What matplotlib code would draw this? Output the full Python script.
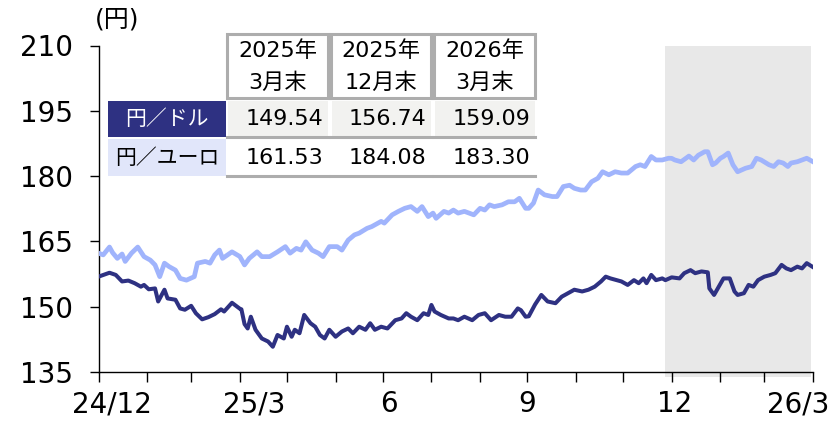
import numpy as np
import pandas as pd
import matplotlib
matplotlib.use('Agg')
import matplotlib.pyplot as plt
import matplotlib.transforms as mtrans
from matplotlib.patches import Rectangle
from matplotlib.lines import Line2D

plt.rcParams['font.family'] = ['DejaVu Sans', 'Noto Sans CJK JP']

# 円／ドル (TTM)
usd_dates = [
    '2024-12-31', '2025-01-07', '2025-01-11', '2025-01-15', '2025-01-19', '2025-01-23',
    '2025-01-27', '2025-01-29', '2025-02-01', '2025-02-05', '2025-02-07', '2025-02-11',
    '2025-02-13', '2025-02-18', '2025-02-21', '2025-02-24', '2025-02-28', '2025-03-03',
    '2025-03-07', '2025-03-11', '2025-03-15', '2025-03-19', '2025-03-21', '2025-03-26',
    '2025-03-31', '2025-04-01', '2025-04-03', '2025-04-05', '2025-04-07', '2025-04-10',
    '2025-04-14', '2025-04-18', '2025-04-21', '2025-04-24', '2025-04-28', '2025-04-30',
    '2025-05-03', '2025-05-05', '2025-05-08', '2025-05-11', '2025-05-15', '2025-05-18',
    '2025-05-21', '2025-05-24', '2025-05-27', '2025-05-31', '2025-06-04', '2025-06-08',
    '2025-06-11', '2025-06-15', '2025-06-19', '2025-06-22', '2025-06-25', '2025-06-29',
    '2025-07-03', '2025-07-08', '2025-07-12', '2025-07-15', '2025-07-18', '2025-07-22',
    '2025-07-26', '2025-07-29', '2025-07-31', '2025-08-02', '2025-08-06', '2025-08-11',
    '2025-08-14', '2025-08-17', '2025-08-21', '2025-08-26', '2025-08-30', '2025-09-03',
    '2025-09-07', '2025-09-12', '2025-09-16', '2025-09-20', '2025-09-24', '2025-09-26',
    '2025-09-29', '2025-10-01', '2025-10-05', '2025-10-09', '2025-10-13', '2025-10-18',
    '2025-10-22', '2025-10-26', '2025-10-30', '2025-11-04', '2025-11-08', '2025-11-12',
    '2025-11-16', '2025-11-19', '2025-11-22', '2025-11-26', '2025-11-29', '2025-12-03',
    '2025-12-07', '2025-12-10', '2025-12-13', '2025-12-15', '2025-12-18', '2025-12-21',
    '2025-12-25', '2025-12-27', '2025-12-31', '2026-01-05', '2026-01-08', '2026-01-12',
    '2026-01-15', '2026-01-19', '2026-01-23', '2026-01-24', '2026-01-27', '2026-01-30',
    '2026-02-02', '2026-02-06', '2026-02-09', '2026-02-11', '2026-02-15', '2026-02-18',
    '2026-02-21', '2026-02-24', '2026-02-28', '2026-03-04', '2026-03-07', '2026-03-11',
    '2026-03-14', '2026-03-17', '2026-03-21', '2026-03-24', '2026-03-27', '2026-03-31',
]
usd_values = [
    156.9, 157.8, 157.3, 155.8, 156.0, 155.4,
    154.6, 155.0, 154.0, 154.2, 151.2, 153.9,
    151.9, 151.6, 149.6, 149.3, 150.2, 148.5,
    147.1, 147.6, 148.3, 149.4, 148.9, 150.9,
    149.54, 149.4, 146.0, 145.0, 147.7, 144.7,
    142.7, 142.0, 140.8, 143.5, 142.7, 145.4,
    143.1, 144.7, 143.9, 148.1, 146.2, 145.4,
    143.5, 142.7, 144.7, 143.1, 144.3, 145.0,
    143.9, 145.4, 144.7, 146.2, 144.7, 145.4,
    145.0, 146.9, 147.3, 148.5, 147.7, 146.9,
    148.5, 148.1, 150.4, 148.9, 148.1, 147.3,
    147.3, 146.9, 147.7, 146.9, 148.1, 148.5,
    146.9, 148.1, 147.7, 147.7, 149.6, 149.2,
    147.7, 147.8, 150.5, 152.7, 151.2, 150.8,
    152.3, 153.1, 153.9, 153.5, 153.9, 154.6,
    155.8, 156.9, 156.5, 156.1, 155.8, 155.0,
    156.1, 155.4, 156.5, 155.4, 157.3, 156.1,
    156.5, 156.1, 156.74, 156.5, 157.7, 158.4,
    157.7, 158.1, 157.9, 154.2, 152.7, 154.6,
    156.5, 156.5, 153.5, 152.7, 153.1, 155.0,
    154.6, 156.1, 156.9, 157.3, 157.7, 159.6,
    158.8, 158.4, 159.2, 158.8, 160.0, 159.09,
]

# 円／ユーロ
eur_dates = [
    '2024-12-31', '2025-01-03', '2025-01-07', '2025-01-09', '2025-01-12', '2025-01-15',
    '2025-01-17', '2025-01-21', '2025-01-25', '2025-01-29', '2025-02-02', '2025-02-05',
    '2025-02-08', '2025-02-11', '2025-02-14', '2025-02-18', '2025-02-21', '2025-02-25',
    '2025-03-02', '2025-03-04', '2025-03-09', '2025-03-12', '2025-03-15', '2025-03-18',
    '2025-03-20', '2025-03-26', '2025-03-31', '2025-04-03', '2025-04-06', '2025-04-11',
    '2025-04-14', '2025-04-19', '2025-04-24', '2025-04-29', '2025-05-02', '2025-05-06',
    '2025-05-09', '2025-05-12', '2025-05-16', '2025-05-20', '2025-05-23', '2025-05-27',
    '2025-06-01', '2025-06-04', '2025-06-08', '2025-06-12', '2025-06-15', '2025-06-20',
    '2025-06-23', '2025-06-27', '2025-06-29', '2025-07-01', '2025-07-06', '2025-07-10',
    '2025-07-14', '2025-07-18', '2025-07-22', '2025-07-25', '2025-07-29', '2025-08-01',
    '2025-08-03', '2025-08-08', '2025-08-11', '2025-08-14', '2025-08-17', '2025-08-21',
    '2025-08-27', '2025-08-31', '2025-09-03', '2025-09-06', '2025-09-09', '2025-09-14',
    '2025-09-18', '2025-09-22', '2025-09-25', '2025-09-29', '2025-10-01', '2025-10-04',
    '2025-10-07', '2025-10-11', '2025-10-16', '2025-10-19', '2025-10-23', '2025-10-27',
    '2025-10-30', '2025-11-03', '2025-11-06', '2025-11-10', '2025-11-14', '2025-11-17',
    '2025-11-21', '2025-11-25', '2025-11-29', '2025-12-03', '2025-12-08', '2025-12-11',
    '2025-12-14', '2025-12-18', '2025-12-21', '2025-12-25', '2025-12-29', '2025-12-31',
    '2026-01-02', '2026-01-06', '2026-01-11', '2026-01-14', '2026-01-17', '2026-01-21',
    '2026-01-23', '2026-01-26', '2026-01-28', '2026-01-31', '2026-02-02', '2026-02-05',
    '2026-02-08', '2026-02-11', '2026-02-16', '2026-02-20', '2026-02-23', '2026-02-26',
    '2026-03-03', '2026-03-06', '2026-03-09', '2026-03-12', '2026-03-15', '2026-03-17',
    '2026-03-21', '2026-03-24', '2026-03-27', '2026-03-31',
]
eur_values = [
    162.3, 161.9, 163.7, 162.4, 161.1, 162.1,
    160.4, 162.3, 163.7, 161.5, 160.7, 159.6,
    156.9, 160.0, 159.2, 158.4, 156.5, 156.1,
    156.9, 160.0, 160.4, 160.0, 161.9, 163.0,
    161.1, 162.6, 161.53, 159.6, 161.1, 162.6,
    161.5, 161.5, 162.6, 163.8, 162.3, 163.4,
    163.0, 164.9, 163.0, 162.3, 161.5, 163.8,
    163.8, 163.0, 165.3, 166.5, 166.9, 168.0,
    168.4, 169.2, 169.6, 169.2, 171.1, 171.9,
    172.6, 173.0, 171.9, 173.0, 170.7, 171.5,
    170.3, 171.9, 171.5, 172.2, 171.5, 171.9,
    171.1, 172.6, 172.2, 173.4, 173.0, 173.4,
    174.1, 174.1, 174.9, 172.6, 172.6, 173.8,
    176.8, 175.7, 175.3, 175.3, 177.6, 177.9,
    177.2, 176.8, 176.8, 178.7, 179.5, 181.0,
    180.3, 181.0, 180.7, 180.7, 182.2, 182.6,
    182.2, 184.5, 183.7, 183.7, 184.1, 184.08,
    183.7, 183.3, 184.6, 183.7, 184.8, 185.6,
    185.6, 182.6, 183.0, 184.1, 184.5, 185.3,
    182.6, 181.0, 181.8, 182.2, 184.1, 183.7,
    182.6, 182.2, 183.3, 183.0, 182.2, 183.0,
    183.3, 183.7, 184.1, 183.30,
]

table_dates = ['2025-03-31', '2025-12-31', '2026-03-31']
table_years = ['2025年', '2025年', '2026年']
table_months = ['3月末', '12月末', '3月末']
row_labels = ['円／ドル', '円／ユーロ']

shade_start = '2025-12-27'
shade_end = '2026-03-30'

tick_labels = ['24/12', '25/3', '6', '9', '12', '26/3']
label_shift = [13, 14, 6, 0, 3, -15]

W, H = 834, 422
navy = '#2E3182'
light = '#A0B4FC'


def px(x, y):
    return x / W, 1 - y / H


def main():
    usd = pd.Series(usd_values, index=pd.to_datetime(usd_dates))
    eur = pd.Series(eur_values, index=pd.to_datetime(eur_dates))

    fig = plt.figure(figsize=(W / 100, H / 100), dpi=100)
    ax = fig.add_axes([98.5 / W, 1 - 372 / H, (813 - 98.5) / W, (372 - 45.5) / H])

    ax.axvspan(pd.Timestamp(shade_start), pd.Timestamp(shade_end), ymin=-0.016, ymax=1,
               color='#E8E8E8', lw=0, zorder=0, clip_on=False)
    ax.plot(eur.index, eur.values, color=light, lw=3.4, solid_joinstyle='round', zorder=3)
    ax.plot(usd.index, usd.values, color=navy, lw=2.9, solid_joinstyle='round', zorder=4)

    ax.set_xlim(pd.Timestamp('2024-12-31'), pd.Timestamp('2026-03-31'))
    ax.set_ylim(135, 210)
    ax.set_yticks(np.arange(135, 211, 15))

    month_ends = pd.date_range('2024-12-31', '2026-03-31', freq='ME')
    ax.set_xticks(month_ends[::3])
    ax.set_xticklabels(tick_labels)
    ax.set_xticks(month_ends, minor=True)

    for s in ['top', 'right']:
        ax.spines[s].set_visible(False)
    for s in ['left', 'bottom']:
        ax.spines[s].set_linewidth(1.0)

    ax.tick_params(axis='y', direction='out', length=6.5, width=1.0, labelsize=20, pad=12)
    ax.tick_params(axis='x', which='both', direction='out', length=7, width=1.0)
    ax.tick_params(axis='x', labelsize=20, pad=6)

    for lab, dx in zip(ax.get_xticklabels(), label_shift):
        lab.set_transform(lab.get_transform() + mtrans.ScaledTranslation(dx / 100, 0, fig.dpi_scale_trans))

    fig.text(*px(117, 20), '(円)', fontsize=18, ha='center', va='center')

    # table of month-end levels
    grey = '#ADADAD'
    cols_x = [(227, 328), (331, 431), (434, 535)]
    for (x0, x1), yr, mo in zip(cols_x, table_years, table_months):
        fig.add_artist(Rectangle(px(x0, 98), (x1 - x0) / W, 64 / H, transform=fig.transFigure,
                                 facecolor='white', edgecolor=grey, lw=2.2))
        fig.text(*px((x0 + x1) / 2, 51), yr, fontsize=16, ha='center', va='center')
        fig.text(*px((x0 + x1) / 2, 83), mo, fontsize=16, ha='center', va='center')

    rows = [(usd, 101, 137, navy, 'white', '#F2F2F0'),
            (eur, 139, 176, '#E1E6FA', 'black', 'white')]
    for (ser, y0, y1, lab_bg, lab_fg, cell_bg), name in zip(rows, row_labels):
        fig.add_artist(Rectangle(px(108, y1), 118 / W, (y1 - y0) / H, transform=fig.transFigure,
                                 facecolor=lab_bg, lw=0))
        fig.text(*px(167, (y0 + y1) / 2), name, fontsize=15, color=lab_fg, ha='center', va='center')
        for (x0, x1), d in zip(cols_x, table_dates):
            fig.add_artist(Rectangle(px(x0 + 1, y1), (x1 - x0 - 1) / W, (y1 - y0) / H,
                                     transform=fig.transFigure, facecolor=cell_bg, lw=0))
            fig.add_artist(Line2D([x0 / W, x1 / W], [1 - y1 / H] * 2, transform=fig.transFigure,
                                  color=grey, lw=2.2))
            v = ser[pd.Timestamp(d)]
            fig.text(*px(x1 - 5, (y0 + y1) / 2), f'{v:.2f}', fontsize=16, ha='right', va='center')

    fig.savefig('out.png', dpi=100)


if __name__ == '__main__':
    main()
